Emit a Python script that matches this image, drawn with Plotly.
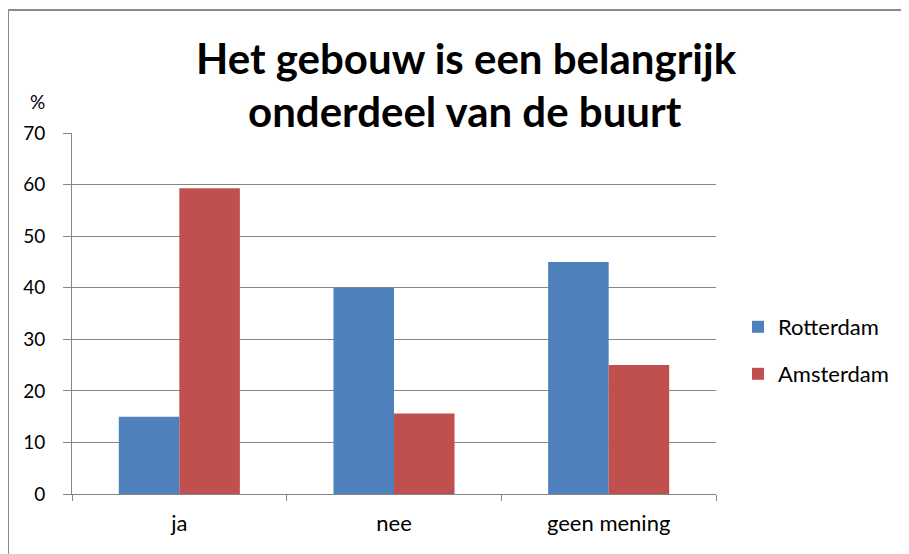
import plotly.graph_objects as go

categories = ["ja", "nee", "geen mening"]
rotterdam = [15, 40, 45]
amsterdam = [59.3, 15.6, 25]
series_names = ["Rotterdam", "Amsterdam"]
title_lines = ["Het gebouw is een belangrijk", "onderdeel van de buurt"]
y_ticks = [0, 10, 20, 30, 40, 50, 60, 70]

OFF = 8  # page body margin
W, H = 909 - OFF, 554 - OFF
L, R, T, B = 72 - OFF, 716 - OFF, 133 - OFF, 494 - OFF

FONT = "Lato, 'Open Sans', sans-serif"
GRID = "#868686"

fig = go.Figure()
fig.add_trace(go.Bar(x=categories, y=rotterdam, name=series_names[0],
                     marker=dict(color="#4F81BD", line=dict(width=0)), legend="legend"))
fig.add_trace(go.Bar(x=categories, y=amsterdam, name=series_names[1],
                     marker=dict(color="#C0504D", line=dict(width=0)), legend="legend2"))

def px_x(x):
    return (x - OFF - L) / (R - L)

def px_y(y):
    return (B - (y - OFF)) / (B - T)

fig.update_layout(
    width=W, height=H,
    margin=dict(l=L, r=W - R, t=T, b=H - B, pad=0),
    paper_bgcolor="white", plot_bgcolor="white",
    font=dict(family=FONT, size=19, color="#000000"),
    barmode="group", bargap=0.436, bargroupgap=0,
    showlegend=True,
    legend=dict(x=px_x(738), y=px_y(327), xanchor="left", yanchor="middle",
                font=dict(size=22, family=FONT, color="#000"), bgcolor="rgba(0,0,0,0)",
                itemwidth=30, tracegroupgap=0),
    legend2=dict(x=px_x(738), y=px_y(374), xanchor="left", yanchor="middle",
                 font=dict(size=22, family=FONT, color="#000"), bgcolor="rgba(0,0,0,0)",
                 itemwidth=30, tracegroupgap=0),
    xaxis=dict(type="category", showgrid=False, showline=True, linecolor=GRID, linewidth=1,
               ticks="outside", tickson="boundaries", ticklen=6, tickcolor=GRID,
               tickfont=dict(size=22, family=FONT, color="#000"), ticklabelstandoff=10),
    yaxis=dict(range=[0, 70], tickvals=y_ticks, showgrid=True, gridcolor=GRID, gridwidth=1,
               showline=True, linecolor=GRID, linewidth=1, ticks="outside", ticklen=8,
               tickcolor=GRID, zeroline=False,
               tickfont=dict(size=19, family=FONT, color="#000"), ticklabelstandoff=14),
    annotations=[
        dict(text="<b>%s</b>" % title_lines[0], x=px_x(466), y=px_y(58), xref="paper", yref="paper",
             xanchor="center", yanchor="middle", showarrow=False,
             font=dict(size=42, family=FONT, color="#000")),
        dict(text="<b>%s</b>" % title_lines[1], x=px_x(465), y=px_y(111), xref="paper", yref="paper",
             xanchor="center", yanchor="middle", showarrow=False,
             font=dict(size=42, family=FONT, color="#000")),
        dict(text="%", x=px_x(37), y=px_y(102), xref="paper", yref="paper",
             xanchor="center", yanchor="middle", showarrow=False,
             font=dict(size=19, family=FONT, color="#000")),
    ],
    shapes=[
        dict(type="line", xref="paper", yref="paper", x0=px_x(7), x1=px_x(912), y0=px_y(10), y1=px_y(10),
             line=dict(color="#8a8a8a", width=2)),
        dict(type="line", xref="paper", yref="paper", x0=px_x(8), x1=px_x(8), y0=px_y(10), y1=px_y(560),
             line=dict(color="#8a8a8a", width=2)),
    ],
)

fig.write_html("out.html")
